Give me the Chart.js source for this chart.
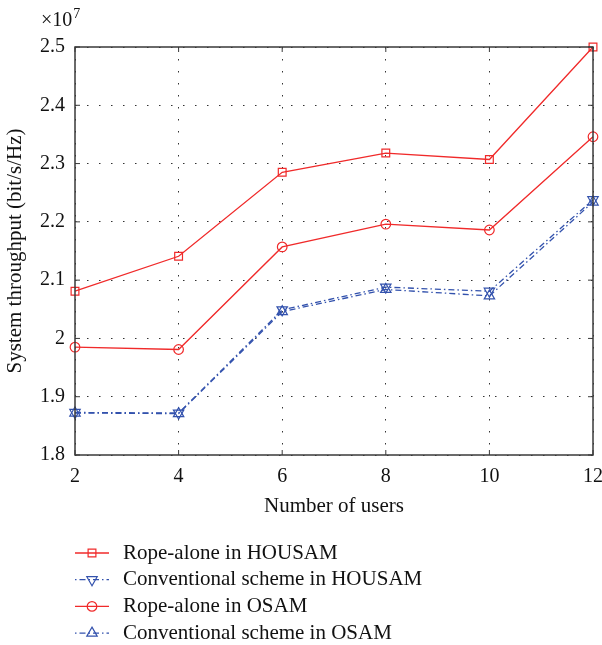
<!DOCTYPE html>
<html>
<head>
<meta charset="utf-8">
<script src="https://cdn.jsdelivr.net/npm/chart.js@4"></script>
<style>
  body { margin: 0; background: #fff; }
</style>
</head>
<body>
<canvas id="chart" width="602" height="645"></canvas>
<script>
// Data (values in units of 10^7 bit/s/Hz)
const users = [2, 4, 6, 8, 10, 12];
const ropeHousam = [2.081, 2.141, 2.285, 2.318, 2.307, 2.500];
const convHousam = [1.873, 1.872, 2.049, 2.088, 2.081, 2.238];
const ropeOsam = [1.985, 1.981, 2.157, 2.196, 2.186, 2.346];
const convOsam = [1.872, 1.871, 2.046, 2.084, 2.073, 2.234];
const seriesNames = [
  "Rope-alone in HOUSAM",
  "Conventional scheme in HOUSAM",
  "Rope-alone in OSAM",
  "Conventional scheme in OSAM"
];
const yTicks = [1.8, 1.9, 2.0, 2.1, 2.2, 2.3, 2.4, 2.5];

const RED = "#f02a2a";
const BLUE = "#3352ad";
const SERIF = "'Liberation Serif', 'DejaVu Serif', serif";
const DASHDOT = [6, 3, 1.5, 3];

// -----------------------------
// box, inward ticks, exponent
// -----------------------------
const framePlugin = {
  id: "frame",
  afterDatasetsDraw(chart) {
    const { ctx, chartArea: a, scales } = chart;
    ctx.save();
    ctx.strokeStyle = "#3a3a3a";
    ctx.lineWidth = 1.5;
    ctx.setLineDash([]);
    ctx.strokeRect(a.left, a.top, a.right - a.left, a.bottom - a.top);
    ctx.lineWidth = 1;
    ctx.beginPath();
    scales.x.ticks.forEach((t, i) => {
      const x = scales.x.getPixelForTick(i);
      ctx.moveTo(x, a.bottom); ctx.lineTo(x, a.bottom - 5);
      ctx.moveTo(x, a.top); ctx.lineTo(x, a.top + 5);
    });
    scales.y.ticks.forEach((t, i) => {
      const y = scales.y.getPixelForTick(i);
      ctx.moveTo(a.left, y); ctx.lineTo(a.left + 5, y);
      ctx.moveTo(a.right, y); ctx.lineTo(a.right - 5, y);
    });
    ctx.stroke();

    // x10^7 multiplier
    ctx.fillStyle = "#111";
    ctx.textBaseline = "alphabetic";
    ctx.textAlign = "left";
    ctx.font = "20px " + SERIF;
    ctx.fillText("\u00d710", 41, 26);
    const w = ctx.measureText("\u00d710").width;
    ctx.font = "14px " + SERIF;
    ctx.fillText("7", 41 + w + 1, 18);
    ctx.restore();
  }
};

// -----------------------------
// legend stacked under the plot
// -----------------------------
const legendPlugin = {
  id: "stackLegend",
  afterDraw(chart) {
    const ctx = chart.ctx;
    chart.data.datasets.forEach((ds, i) => {
      const y = 553 + i * 26.7;
      ctx.save();
      ctx.strokeStyle = ds.borderColor;
      ctx.lineWidth = ds.borderWidth;
      ctx.setLineDash(ds.borderDash || []);
      ctx.lineDashOffset = ds.borderDash ? 9 : 0;
      ctx.beginPath();
      ctx.moveTo(75, y);
      ctx.lineTo(109, y);
      ctx.stroke();
      ctx.setLineDash([]);
      ctx.lineWidth = 1.2;
      Chart.helpers.drawPoint(ctx, {
        pointStyle: ds.pointStyle,
        radius: ds.pointRadius,
        rotation: ds.pointRotation || 0,
        borderWidth: 1.2
      }, 92, y);
      ctx.fillStyle = "#111";
      ctx.font = "21px " + SERIF;
      ctx.textBaseline = "middle";
      ctx.fillText(ds.label, 123, y);
      ctx.restore();
    });
  }
};

function makeSet(label, data, color, style, radius, rotation, dash) {
  return {
    label: label,
    data: data,
    borderColor: color,
    backgroundColor: "rgba(0,0,0,0)",
    pointBackgroundColor: "rgba(0,0,0,0)",
    pointBorderColor: color,
    pointBorderWidth: 1.2,
    borderWidth: 1.3,
    borderDash: dash,
    pointStyle: style,
    pointRadius: radius,
    pointRotation: rotation,
    pointHoverRadius: radius,
    tension: 0,
    clip: false
  };
}

new Chart(document.getElementById("chart"), {
  type: "line",
  data: {
    labels: users,
    datasets: [
      makeSet(seriesNames[0], ropeHousam, RED, "rect", 5.5, 0, undefined),
      makeSet(seriesNames[1], convHousam, BLUE, "triangle", 6, 180, DASHDOT),
      makeSet(seriesNames[2], ropeOsam, RED, "circle", 4.8, 0, undefined),
      makeSet(seriesNames[3], convOsam, BLUE, "triangle", 6, 0, DASHDOT)
    ]
  },
  options: {
    responsive: false,
    animation: false,
    events: [],
    layout: { padding: { top: 47, right: 9, bottom: 120, left: 0 } },
    plugins: {
      legend: { display: false },
      tooltip: { enabled: false }
    },
    scales: {
      x: {
        type: "category",
        offset: false,
        afterFit(scale) {
          scale.height = 70;
          scale.paddingLeft = 0;
          scale.paddingRight = 0;
        },
        grid: { color: "#333", lineWidth: 1, drawTicks: false },
        border: { display: false, dash: [1.5, 10.5] },
        ticks: {
          color: "#111",
          padding: 10,
          maxRotation: 0,
          font: { family: SERIF, size: 20 }
        },
        title: {
          display: true,
          text: "Number of users",
          color: "#111",
          padding: { top: 0, bottom: 6 },
          font: { family: SERIF, size: 21 }
        }
      },
      y: {
        min: yTicks[0],
        max: yTicks[yTicks.length - 1],
        afterFit(scale) {
          scale.width = 75;
          scale.paddingTop = 0;
          scale.paddingBottom = 0;
        },
        afterBuildTicks(scale) {
          scale.ticks = yTicks.map(v => ({ value: v }));
        },
        grid: { color: "#333", lineWidth: 1, drawTicks: false },
        border: { display: false, dash: [1.5, 10.5] },
        ticks: {
          color: "#111",
          padding: 10,
          font: { family: SERIF, size: 20 },
          callback: v => String(Number(v.toFixed(1)))
        },
        title: {
          display: true,
          text: "System throughput (bit/s/Hz)",
          color: "#111",
          padding: { top: 3, bottom: 0 },
          font: { family: SERIF, size: 21 }
        }
      }
    }
  },
  plugins: [framePlugin, legendPlugin]
});
</script>
</body>
</html>
